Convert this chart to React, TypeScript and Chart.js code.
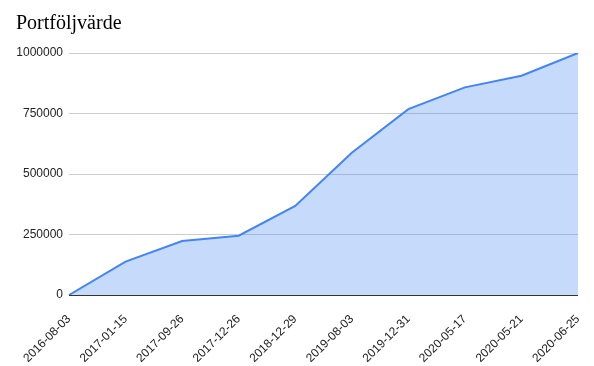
import React, { useEffect, useRef } from "react";
import { Chart, registerables } from "chart.js";

Chart.register(...registerables);

const categories = [
  "2016-08-03",
  "2017-01-15",
  "2017-09-26",
  "2017-12-26",
  "2018-12-29",
  "2019-08-03",
  "2019-12-31",
  "2020-05-17",
  "2020-05-21",
  "2020-06-25",
];
const portfolioValues = [0, 138000, 223000, 245000, 368000, 588000, 768000, 858000, 906000, 1000000];
const yTicks = [0, 250000, 500000, 750000, 1000000];
const titleText = "Portföljvärde";

const titlePlugin = {
  id: "customTitle",
  afterDraw(chart: any) {
    const ctx = chart.ctx;
    ctx.save();
    ctx.font = "20px 'Liberation Serif', serif";
    ctx.fillStyle = "#000";
    ctx.textBaseline = "alphabetic";
    ctx.textAlign = "left";
    ctx.fillText(titleText, 16, 29);
    ctx.restore();
  },
};

export default function App() {
  const ref = useRef<HTMLCanvasElement | null>(null);
  useEffect(() => {
    if (!ref.current) return;
    const chart = new Chart(ref.current, {
      type: "line",
      data: {
        labels: categories,
        datasets: [
          {
            data: portfolioValues,
            borderColor: "#4285f4",
            borderWidth: 2,
            backgroundColor: "rgba(66,133,244,0.3)",
            fill: "origin",
            pointRadius: 0,
            tension: 0,
          },
        ],
      },
      options: {
        responsive: false,
        animation: false,
        layout: { padding: { top: 53, right: 16, left: 0, bottom: 0 } },
        plugins: { legend: { display: false }, tooltip: { enabled: false } },
        scales: {
          x: {
            offset: false,
            grid: { display: false },
            border: { display: false },
            ticks: {
              autoSkip: false,
              minRotation: 45,
              maxRotation: 45,
              color: "#222",
              padding: 9,
              font: { family: "'Liberation Sans', Arial, sans-serif", size: 12 },
            },
            afterFit(scale: any) {
              scale.height = 71;
              scale.paddingRight = 0;
              scale.paddingLeft = 0;
            },
          },
          y: {
            min: 0,
            max: 1000000,
            afterBuildTicks(scale: any) {
              scale.ticks = yTicks.map((v) => ({ value: v }));
            },
            grid: {
              drawTicks: false,
              color: (c: any) => (c.tick && c.tick.value === 0 ? "#333" : "#ccc"),
              lineWidth: 1,
            },
            border: { display: false },
            ticks: {
              color: "#222",
              padding: 6,
              callback: (v: any) => String(v),
              font: { family: "'Liberation Sans', Arial, sans-serif", size: 12 },
            },
            afterFit(scale: any) {
              scale.width = 69;
            },
          },
        },
      },
      plugins: [titlePlugin],
    });
    return () => chart.destroy();
  }, []);
  return (
    <div style={{ position: "absolute", left: 0, top: 0, width: 594, height: 366, background: "#fff" }}>
      <canvas ref={ref} width={594} height={366} />
    </div>
  );
}
